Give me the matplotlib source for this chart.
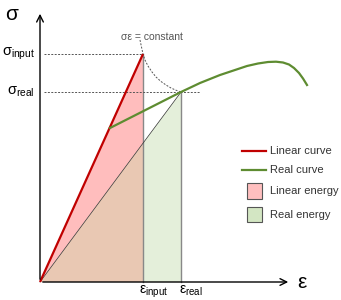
import numpy as np
import matplotlib.pyplot as plt
from matplotlib.patches import Polygon, Rectangle

plt.rcParams['font.family'] = ['Liberation Sans', 'DejaVu Sans']
plt.rcParams['mathtext.fontset'] = 'custom'
plt.rcParams['mathtext.rm'] = 'Liberation Sans'
plt.rcParams['mathtext.it'] = 'Liberation Sans'

# key points (strain, stress)
eps_input = 103
sig_input = 228
eps_real = 141
sig_real = 190

# real curve
real_eps = [70, 141, 160, 180, 195, 207, 218, 228, 236, 243, 249, 254, 259, 263, 267]
real_sig = [154, 190, 199, 207, 212, 216, 218.5, 220, 220.3, 219.5, 217.5, 214, 209, 203.5, 197]

# sigma*eps = constant curve
const_eps = [100, 101.5, 103, 105, 108, 112, 116, 121, 126, 131, 136, 141]
const_sig = [242, 235, 228, 222, 216, 210, 205, 200.5, 197, 194, 191.8, 190]

legend_labels = ["Linear curve", "Real curve", "Linear energy", "Real energy"]

red = '#C00000'
green = '#5E8C31'
pink = '#FFBDBD'
lgreen = '#E4EFDA'
overlap = '#E9C8B3'
dash_col = '#555555'

fig = plt.figure(figsize=(3.41, 3.0), dpi=100)
ax = fig.add_axes([0, 0, 1, 1])
ax.set_xlim(-40, 301)
ax.set_ylim(-18, 282)
ax.axis('off')

# energy areas
k = sig_real / eps_real
ax.add_patch(Polygon([(0, 0), (eps_input, sig_input), (eps_input, k * eps_input)],
                     closed=True, facecolor=pink, edgecolor='none'))
ax.add_patch(Polygon([(0, 0), (eps_input, k * eps_input), (eps_input, 0)],
                     closed=True, facecolor=overlap, edgecolor='none'))
ax.add_patch(Polygon([(eps_input, 0), (eps_input, k * eps_input), (eps_real, sig_real), (eps_real, 0)],
                     closed=True, facecolor=lgreen, edgecolor='none'))
ax.plot([eps_input, eps_input], [0, sig_input], color='#888888', lw=1)
ax.plot([eps_real, eps_real], [0, sig_real], color='#888888', lw=1)
ax.plot([0, eps_real], [0, sig_real], color='#333333', lw=0.5)

# dashed guides
ax.plot([4, eps_input], [sig_input, sig_input], color=dash_col, lw=0.7, dashes=(2, 1.5))
ax.plot([4, 160], [sig_real, sig_real], color=dash_col, lw=0.7, dashes=(2, 1.5))
ax.plot(const_eps, const_sig, color=dash_col, lw=0.7, dashes=(2, 1.5))

# curves
ax.plot([0, eps_input], [0, sig_input], color=red, lw=1.6, solid_capstyle='butt')
ax.plot(real_eps, real_sig, color=green, lw=1.6)

# axes with arrows
ax.annotate('', xy=(0, 271), xytext=(0, 0),
            arrowprops=dict(arrowstyle='->', color='black', lw=1, mutation_scale=12))
ax.annotate('', xy=(251, 0), xytext=(0, 0),
            arrowprops=dict(arrowstyle='->', color='black', lw=1, mutation_scale=12))

ax.text(-28, 268, 'σ', fontsize=15, ha='center', va='center')
ax.text(262, 0, 'ε', fontsize=15, ha='center', va='center')
ax.text(-5, sig_input, r'$\sigma_{\rm input}$', fontsize=10.5, ha='right', va='center')
ax.text(-5, sig_real, r'$\sigma_{\rm real}$', fontsize=10.5, ha='right', va='center')
ax.text(eps_input - 4, -2, r'$\epsilon_{\rm input}$', fontsize=10, ha='left', va='top')
ax.text(eps_real - 2, -2, r'$\epsilon_{\rm real}$', fontsize=10, ha='left', va='top')
ax.text(112, 245, 'σε = constant', fontsize=7.5, color=dash_col, ha='center', va='center')

# legend
ax.plot([202, 226], [131, 131], color=red, lw=1.6)
ax.text(230, 131, legend_labels[0], fontsize=8, color='#333333', va='center')
ax.plot([202, 226], [112, 112], color=green, lw=1.6)
ax.text(230, 112, legend_labels[1], fontsize=8, color='#333333', va='center')
ax.add_patch(Rectangle((207, 83), 15, 16, facecolor='#FFBFBF', edgecolor='#555555', lw=0.8))
ax.text(230, 91, legend_labels[2], fontsize=8, color='#333333', va='center')
ax.add_patch(Rectangle((207, 60), 15, 15, facecolor='#D3E6C3', edgecolor='#555555', lw=0.8))
ax.text(230, 67, legend_labels[3], fontsize=8, color='#333333', va='center')

fig.savefig('out.png', dpi=100)
